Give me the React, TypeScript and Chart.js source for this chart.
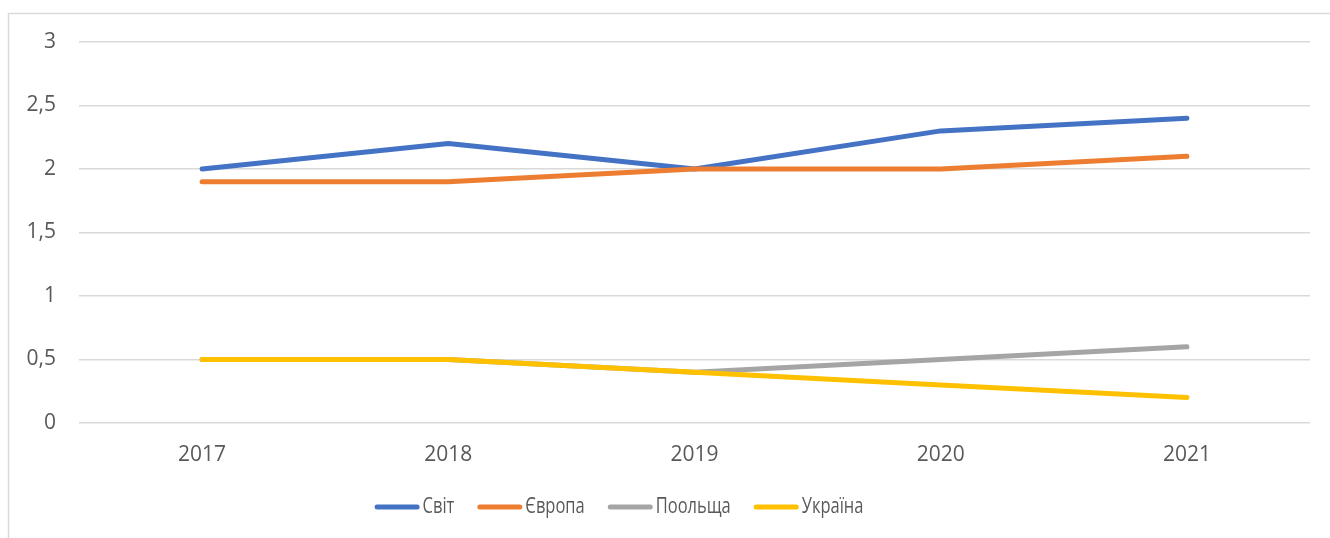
import React, { useEffect, useRef } from "react";
import { Chart, registerables } from "chart.js";

Chart.register(...registerables);

const categories = ["2017", "2018", "2019", "2020", "2021"];
const svit = [2.0, 2.2, 2.0, 2.3, 2.4];
const yevropa = [1.9, 1.9, 2.0, 2.0, 2.1];
const poolshcha = [0.5, 0.5, 0.4, 0.5, 0.6];
const ukraina = [0.5, 0.5, 0.4, 0.3, 0.2];
const seriesNames = ["Світ", "Європа", "Поольща", "Україна"];
const seriesColors = ["#4472C4", "#ED7D31", "#A5A5A5", "#FFC000"];
const yTickLabels = ["0", "0,5", "1", "1,5", "2", "2,5", "3"];

const FONT = "'Open Sans', 'Noto Sans', sans-serif";
const TEXT_COLOR = "#595959";
const GRID_COLOR = "#D9D9D9";

const frameAndLegend = {
  id: "frameAndLegend",
  beforeDraw(chart: any) {
    const ctx = chart.ctx;
    ctx.save();
    ctx.strokeStyle = GRID_COLOR;
    ctx.lineWidth = 1.5;
    ctx.beginPath();
    ctx.moveTo(8.5, chart.height + 10);
    ctx.lineTo(8.5, 13.5);
    ctx.lineTo(chart.width + 10, 13.5);
    ctx.stroke();
    ctx.restore();
  },
  afterDraw(chart: any) {
    const ctx = chart.ctx;
    ctx.save();
    const lineLen = 45;
    const gapText = 3;
    const gapItem = 23;
    const sx = 0.785;
    ctx.font = `21px ${FONT}`;
    const widths = chart.data.datasets.map(
      (d: any) => ctx.measureText(d.label).width * sx
    );
    const total =
      widths.reduce((a: number, w: number) => a + lineLen + gapText + w, 0) +
      gapItem * (widths.length - 1);
    let x = 619 - total / 2;
    const y = 507;
    chart.data.datasets.forEach((d: any, i: number) => {
      ctx.strokeStyle = d.borderColor;
      ctx.lineWidth = 5;
      ctx.lineCap = "round";
      ctx.beginPath();
      ctx.moveTo(x + 2.5, y);
      ctx.lineTo(x + lineLen - 2.5, y);
      ctx.stroke();
      x += lineLen + gapText;
      ctx.save();
      ctx.translate(x, y);
      ctx.scale(sx, 1);
      ctx.fillStyle = TEXT_COLOR;
      ctx.textBaseline = "middle";
      ctx.textAlign = "left";
      ctx.fillText(d.label, 0, 0);
      ctx.restore();
      x += widths[i] + gapItem;
    });
    ctx.restore();
  },
};

export default function App() {
  const ref = useRef<HTMLCanvasElement>(null);
  useEffect(() => {
    if (!ref.current) return;
    const seriesData = [svit, yevropa, poolshcha, ukraina];
    const chart = new Chart(ref.current, {
      type: "line",
      data: {
        labels: categories,
        datasets: seriesData.map((data, i) => ({
          label: seriesNames[i],
          data,
          borderColor: seriesColors[i],
          backgroundColor: seriesColors[i],
          borderWidth: 5,
          borderCapStyle: "round" as const,
          borderJoinStyle: "round" as const,
          pointRadius: 0,
          tension: 0,
          order: seriesData.length - i,
        })),
      },
      options: {
        animation: false,
        responsive: false,
        layout: { padding: { top: 42, right: 20, left: 0, bottom: 0 } },
        plugins: {
          legend: { display: false },
          tooltip: { enabled: false },
        },
        scales: {
          x: {
            offset: true,
            grid: { display: false, drawTicks: false },
            border: { display: false },
            ticks: {
              color: TEXT_COLOR,
              font: { family: FONT, size: 21 },
              padding: 19,
              maxRotation: 0,
            },
            afterFit(scale: any) {
              scale.height = 115;
            },
          },
          y: {
            min: 0,
            max: 3,
            grid: { color: GRID_COLOR, lineWidth: 1.5, drawTicks: false },
            border: { display: false },
            ticks: {
              stepSize: 0.5,
              color: TEXT_COLOR,
              font: { family: FONT, size: 21 },
              padding: 23,
              callback: (_v: any, idx: number) => yTickLabels[idx],
            },
            afterFit(scale: any) {
              scale.width = 79;
            },
          },
        },
      },
      plugins: [frameAndLegend],
    });
    return () => chart.destroy();
  }, []);
  return (
    <div
      style={{
        position: "absolute",
        left: 0,
        top: 0,
        width: 1330,
        height: 538,
        background: "#fff",
      }}
    >
      <canvas ref={ref} width={1330} height={538} />
    </div>
  );
}
